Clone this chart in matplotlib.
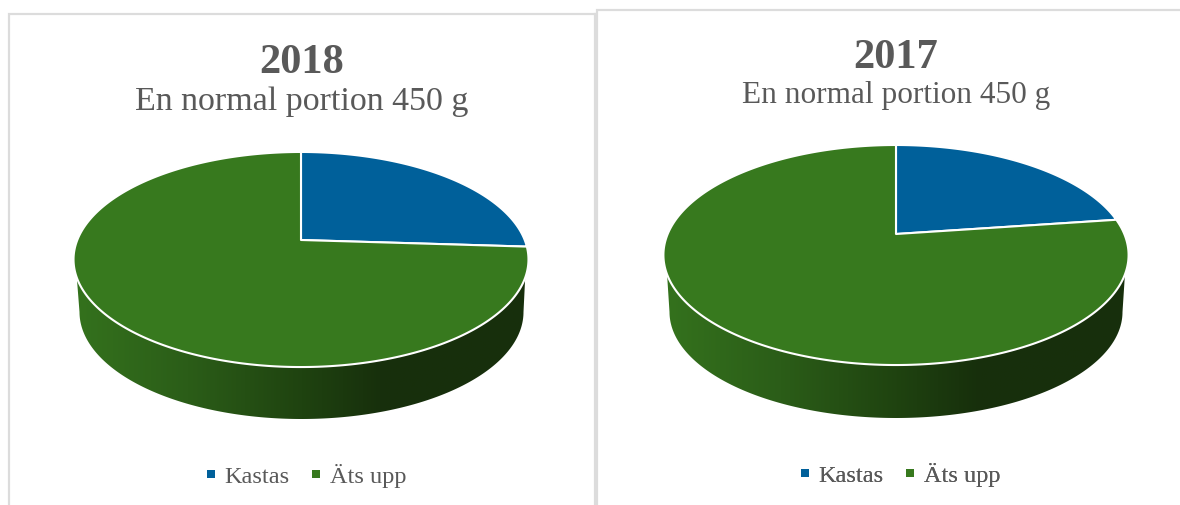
import numpy as np
import matplotlib
matplotlib.use("Agg")
import matplotlib.pyplot as plt
from matplotlib.colors import LinearSegmentedColormap
from matplotlib.lines import Line2D
from matplotlib.patches import Polygon

categories = ["Kastas", "Äts upp"]
years = ["2018", "2017"]
subtitle = "En normal portion 450 g"
values_2018 = [26.0, 74.0]
values_2017 = [22.8, 77.2]

BLUE, GREEN, TEXT, FRAME = "#00609a", "#37791e", "#595959", "#dcdcdc"
SERIF = ["Liberation Serif", "DejaVu Serif"]
colors = [BLUE, GREEN]

side_cmap = LinearSegmentedColormap.from_list(
    "side",
    [(0, "#34721d"), (0.25, "#2b5d18"), (0.5, "#1f4310"), (0.68, "#172f0c"), (1, "#18300c")],
)

fig = plt.figure(figsize=(11.8, 5.06), dpi=100, facecolor="white")
ax = fig.add_axes([0, 0, 1, 1])


def project(theta, g):
    u, v = np.cos(theta), np.sin(theta)
    d = 1 + g["k"] * v
    return g["cx"] + g["rx"] * u / d, g["cy"] - g["a"] * v / d


def draw_pie(values, g):
    # side wall: gradient image clipped to the hull of the two rims
    t = np.linspace(np.pi, 2 * np.pi, 200)
    low_x = g["lcx"] + g["lrx"] * np.cos(t)
    low_y = g["lcy"] - g["lry"] * np.sin(t)
    top_x, top_y = project(t, g)
    mask = top_y >= g["rim_y"]
    poly = Polygon(np.c_[np.r_[low_x, top_x[mask][::-1]], np.r_[low_y, top_y[mask][::-1]]],
                   closed=True, transform=ax.transData, fc="none", ec="none")
    ax.add_patch(poly)
    im = ax.imshow(np.linspace(0, 1, 256)[None, :], cmap=side_cmap, aspect="auto",
                   extent=(g["lcx"] - g["lrx"] - 6, g["lcx"] + g["lrx"] + 6,
                           g["lcy"] + g["lry"] + 2, g["rim_y"] - 2),
                   zorder=1, interpolation="bilinear")
    im.set_clip_path(poly)

    # top face: slices clockwise from twelve o'clock
    edges = np.r_[0, np.cumsum(values)] / np.sum(values)
    for i, color in enumerate(colors):
        th = np.pi / 2 - 2 * np.pi * np.linspace(edges[i], edges[i + 1], 300)
        x, y = project(th, g)
        ax.fill(np.r_[g["cx"], x], np.r_[g["cy"], y], fc=color, ec="white", lw=1.5,
                joinstyle="round", zorder=2)


def draw_panel(year, values, g):
    draw_pie(values, g)
    ax.text(g["tx"], g["ty"], year, family=SERIF, weight="bold", fontsize=g["fs_title"],
            color=TEXT, ha="center", va="baseline")
    ax.text(g["tx"], g["sy"], subtitle, family=SERIF, fontsize=g["fs_sub"],
            color=TEXT, ha="center", va="baseline")
    handles = [Line2D([], [], ls="none", marker="s", ms=5.2, mfc=c, mec=c, mew=0) for c in colors]
    leg = ax.legend(handles, categories, ncol=2, loc="center", frameon=False,
                    bbox_to_anchor=(g["lx"], g["ly"]), bbox_transform=ax.transData,
                    prop={"family": SERIF, "size": g["fs_leg"]}, labelcolor=TEXT,
                    handletextpad=0.05, columnspacing=0.6, handlelength=1.0,
                    borderpad=0, borderaxespad=0)
    ax.add_artist(leg)


panel_2018 = dict(cx=301, cy=241, rx=223.7, a=104, k=0.1814,
                  lcx=301.5, lcy=313, lrx=222, lry=107, rim_y=278,
                  tx=302, ty=73, sy=110, fs_title=30.5, fs_sub=24.5, fs_leg=17.5, lx=302.5, ly=476.5)
panel_2017 = dict(cx=896, cy=235, rx=228.3, a=106, k=0.191,
                  lcx=896, lcy=313, lrx=226.5, lry=106, rim_y=274,
                  tx=896, ty=68, sy=103, fs_title=30.5, fs_sub=22.5, fs_leg=17.5, lx=896.5, ly=475.5)

draw_panel(years[0], values_2018, panel_2018)
draw_panel(years[1], values_2017, panel_2017)

# chart-area frames (open at the cropped edges)
ax.plot([9, 9, 595], [506, 15, 15], color=FRAME, lw=1.6, zorder=0, solid_joinstyle="miter")
ax.plot([595, 595], [15, 506], color=FRAME, lw=1.6, zorder=0)
ax.plot([597, 597, 1180], [506, 11, 11], color=FRAME, lw=1.6, zorder=0, solid_joinstyle="miter")

ax.set_xlim(0, 1180)
ax.set_ylim(506, 0)
ax.axis("off")
fig.savefig("out.png", dpi=100, facecolor="white")
